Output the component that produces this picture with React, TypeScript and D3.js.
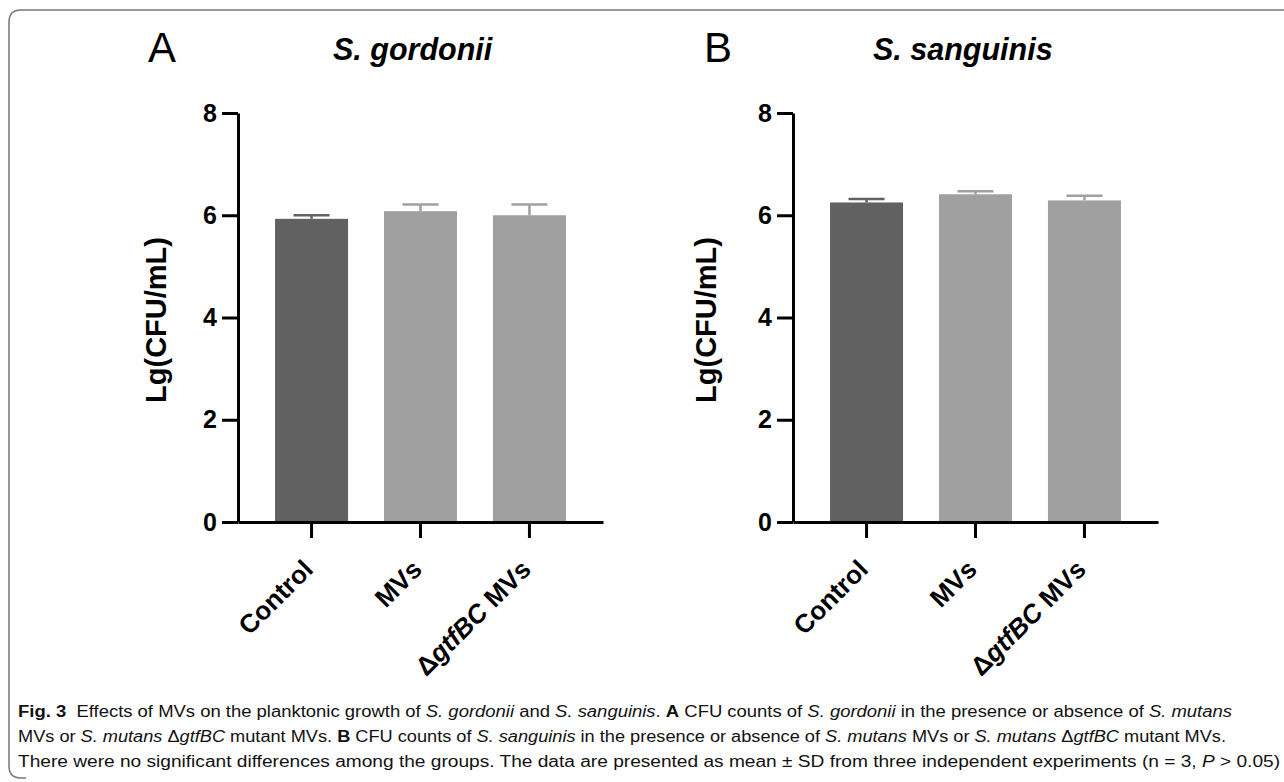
import React, { useRef, useEffect } from "react";
import * as d3 from "d3";

// group labels and values (Lg CFU/mL, mean and SD)
const categories = ["Control", "MVs", "ΔgtfBC MVs"];
const gordoniiMeans = [5.93, 6.08, 6.0];
const gordoniiSD = [0.07, 0.13, 0.21];
const sanguinisMeans = [6.25, 6.41, 6.29];
const sanguinisSD = [0.07, 0.06, 0.09];
const yTicks = [0, 2, 4, 6, 8];
const barColors = ["#616161", "#a0a0a0", "#a0a0a0"];

const panels = [
  { letter: "A", title: "S. gordonii", means: gordoniiMeans, sd: gordoniiSD, x0: 238, letterX: 148, titleX: 333, yTitleX: 166 },
  { letter: "B", title: "S. sanguinis", means: sanguinisMeans, sd: sanguinisSD, x0: 793, letterX: 704, titleX: 873, yTitleX: 716 },
];

// caption lines: [text, style]  (b = bold, i = italic)
const captionLines: [string, string][][] = [
  [["Fig. 3", "b"], ["  Effects of MVs on the planktonic growth of ", ""], ["S. gordonii", "i"], [" and ", ""], ["S. sanguinis", "i"], [". ", ""], ["A", "b"], [" CFU counts of ", ""], ["S. gordonii", "i"], [" in the presence or absence of ", ""], ["S. mutans", "i"]],
  [["MVs or ", ""], ["S. mutans", "i"], [" Δ", ""], ["gtfBC", "i"], [" mutant MVs. ", ""], ["B", "b"], [" CFU counts of ", ""], ["S. sanguinis", "i"], [" in the presence or absence of ", ""], ["S. mutans", "i"], [" MVs or ", ""], ["S. mutans", "i"], [" Δ", ""], ["gtfBC", "i"], [" mutant MVs.", ""]],
  [["There were no significant differences among the groups. The data are presented as mean ± SD from three independent experiments (n = 3, ", ""], ["P", "i"], [" > 0.05)", ""]],
];
const captionWidths = [1214, 1208, 1262];

const FONT = "Liberation Sans, Arial, Helvetica, sans-serif";

const App = () => {
  const svgRef = useRef<SVGSVGElement>(null);

  useEffect(() => {
    const svg = d3.select(svgRef.current);
    svg.selectAll("*").remove();
    const width = 1284;
    const height = 782;
    svg.attr("width", width).attr("height", height);

    // outer frame
    svg
      .append("path")
      .attr("d", "M1284,10 H21 Q9,10 9,22 V766 Q9,778 21,778 H26")
      .attr("fill", "none")
      .attr("stroke", "#777")
      .attr("stroke-width", 1.5);

    const y = d3.scaleLinear().domain([0, 8]).range([522, 113]);

    panels.forEach((p) => {
      const g = svg.append("g").style("font-family", FONT);
      const x = d3
        .scaleBand()
        .domain(categories)
        .range([p.x0, p.x0 + 365])
        .paddingInner(0.33)
        .paddingOuter(0.34);

      g.append("text")
        .attr("x", p.letterX)
        .attr("y", 62)
        .attr("font-size", 42)
        .text(p.letter);

      g.append("text")
        .attr("x", p.titleX)
        .attr("y", 60)
        .attr("font-size", 30.5)
        .attr("font-weight", "bold")
        .attr("font-style", "italic")
        .text(p.title);

      // bars
      g.selectAll(".bar")
        .data(p.means)
        .enter()
        .append("rect")
        .attr("x", (d, i) => x(categories[i]))
        .attr("y", (d) => y(d))
        .attr("width", x.bandwidth())
        .attr("height", (d) => y(0) - y(d))
        .attr("fill", (d, i) => barColors[i]);

      // error bars (upper only)
      p.means.forEach((m, i) => {
        const cx = x(categories[i]) + x.bandwidth() / 2;
        g.append("line")
          .attr("x1", cx).attr("x2", cx)
          .attr("y1", y(m)).attr("y2", y(m + p.sd[i]))
          .attr("stroke", barColors[i]).attr("stroke-width", 2.5);
        g.append("line")
          .attr("x1", cx - 18).attr("x2", cx + 18)
          .attr("y1", y(m + p.sd[i])).attr("y2", y(m + p.sd[i]))
          .attr("stroke", barColors[i]).attr("stroke-width", 2.5);
      });

      // y axis
      const yAxis = g
        .append("g")
        .attr("transform", `translate(${p.x0},0)`)
        .call(d3.axisLeft(y).tickValues(yTicks).tickSize(16).tickSizeOuter(0).tickPadding(5).tickFormat(d3.format("d")));
      yAxis.selectAll("path, line").attr("stroke", "#000").attr("stroke-width", 3);
      yAxis.selectAll("text")
        .style("font-family", FONT)
        .attr("font-size", 25)
        .attr("font-weight", "bold")
        .attr("fill", "#000");

      // x axis
      const xAxis = g
        .append("g")
        .attr("transform", `translate(0,${y(0)})`)
        .call(d3.axisBottom(x).tickSize(16).tickSizeOuter(0).tickFormat(() => ""));
      xAxis.selectAll("path, line").attr("stroke", "#000").attr("stroke-width", 3);

      // rotated category labels
      categories.forEach((c) => {
        const cx = x(c) + x.bandwidth() / 2;
        const t = g
          .append("text")
          .attr("transform", `translate(${cx + 3},${571}) rotate(-45)`)
          .attr("text-anchor", "end")
          .attr("font-size", 26)
          .attr("font-weight", "bold");
        if (c.startsWith("Δ")) {
          t.append("tspan").text("Δ");
          t.append("tspan").attr("font-style", "italic").text("gtfBC");
          t.append("tspan").text(" MVs");
        } else {
          t.text(c);
        }
      });

      // y axis title
      g.append("text")
        .attr("transform", `translate(${p.yTitleX},320) rotate(-90)`)
        .attr("text-anchor", "middle")
        .attr("font-size", 29)
        .attr("font-weight", "bold")
        .text("Lg(CFU/mL)");
    });

    // caption
    captionLines.forEach((line, li) => {
      const t = svg
        .append("text")
        .attr("x", 18)
        .attr("y", 717 + li * 25)
        .style("font-family", FONT)
        .attr("font-size", 16)
        .attr("fill", "#111")
        .attr("textLength", captionWidths[li])
        .attr("lengthAdjust", "spacingAndGlyphs")
        .style("white-space", "pre");
      line.forEach(([s, st]) => {
        const ts = t.append("tspan").text(s);
        if (st === "b") ts.attr("font-weight", "bold");
        if (st === "i") ts.attr("font-style", "italic");
      });
    });
  }, []);

  return (
    <div style={{ position: "absolute", left: 0, top: 0 }}>
      <svg ref={svgRef} style={{ display: "block" }}></svg>
    </div>
  );
};

export default App;
